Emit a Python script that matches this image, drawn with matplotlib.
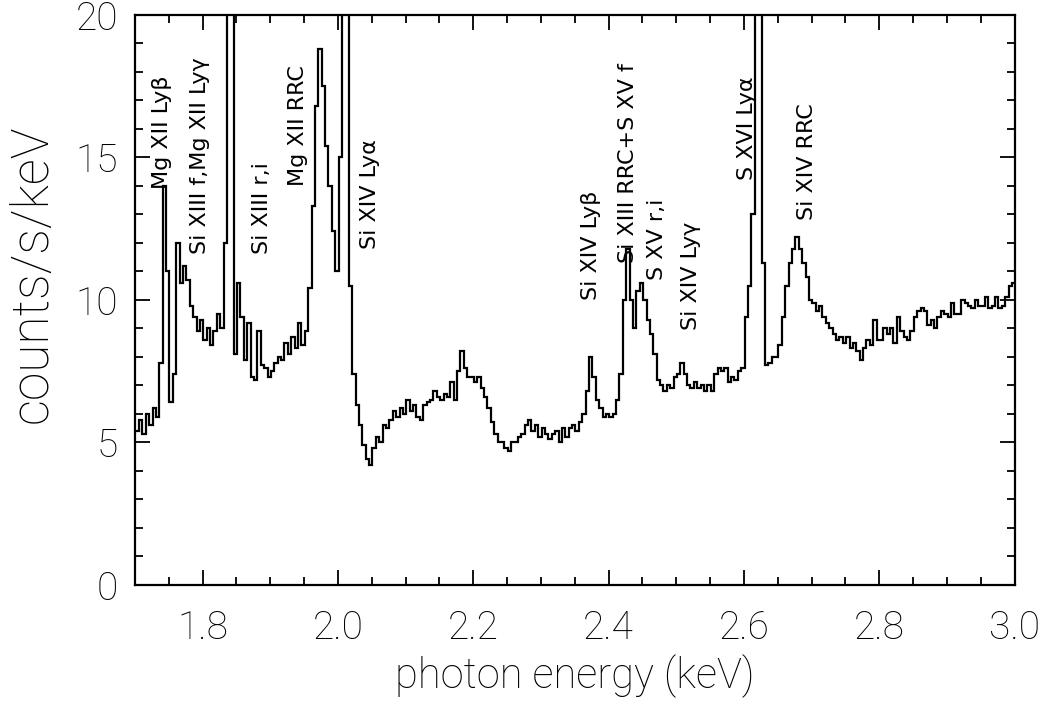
import numpy as np
import matplotlib
matplotlib.use("Agg")
import matplotlib.pyplot as plt
from matplotlib.ticker import MultipleLocator

plt.rcParams['font.family'] = ['Roboto', 'DejaVu Sans']
plt.rcParams['font.weight'] = 'light'
plt.rcParams['axes.labelweight'] = 'light'

# spectrum, 0.005 keV bins (counts/s/keV)
e_start = 1.701
bin_width = 0.005
counts = [
    5.4, 5.8, 5.3, 6.0, 5.6, 6.2, 5.9, 7.8, 14.0, 11.0,   # 1.700
    6.4, 7.4, 12.0, 10.6, 11.2, 10.7, 9.8, 9.4, 8.9, 9.3,  # 1.750
    8.6, 9.0, 8.4, 8.9, 9.5, 9.0, 12.0, 21.0, 20.5, 8.1,   # 1.800
    10.6, 9.4, 7.9, 9.2, 7.3, 7.2, 8.9, 7.7, 7.6, 7.3,     # 1.850
    7.5, 7.8, 8.0, 7.9, 8.5, 8.1, 8.7, 8.3, 9.2, 8.4,      # 1.900
    8.9, 10.4, 13.3, 16.8, 18.8, 17.5, 15.4, 14.0, 12.4, 11.0,  # 1.950
    15.0, 30.0, 25.0, 10.5, 7.4, 6.3, 5.6, 4.9, 4.4, 4.2,  # 2.000
    4.8, 5.2, 5.0, 5.6, 5.5, 5.8, 6.1, 5.9, 6.2, 6.0,      # 2.050
    6.5, 6.1, 6.3, 5.9, 5.8, 6.3, 6.4, 6.5, 6.8, 6.6,      # 2.100
    6.5, 6.7, 6.6, 7.1, 6.5, 7.5, 8.2, 7.6, 7.3, 7.3,      # 2.150
    7.1, 7.3, 6.9, 6.6, 6.2, 5.7, 5.3, 5.0, 5.0, 4.8,      # 2.200
    4.7, 5.0, 5.0, 5.2, 5.3, 5.6, 5.8, 5.4, 5.6, 5.2,      # 2.250
    5.5, 5.3, 5.1, 5.3, 5.4, 5.0, 5.5, 5.2, 5.5, 5.6,      # 2.300
    5.4, 5.7, 6.0, 6.8, 8.0, 7.3, 6.5, 6.2, 5.9, 6.0,      # 2.350
    5.9, 6.0, 6.5, 7.4, 10.0, 11.8, 10.0, 9.0, 10.3, 10.6, # 2.400
    10.0, 9.3, 8.8, 8.1, 7.2, 7.0, 6.8, 7.0, 6.9, 7.3,     # 2.450
    7.4, 7.8, 7.4, 7.0, 6.9, 7.1, 6.9, 7.0, 6.8, 7.0,      # 2.500
    6.8, 7.4, 7.6, 7.5, 7.6, 7.1, 7.3, 7.2, 7.5, 7.6,      # 2.550
    9.4, 10.5, 13.0, 35.0, 28.0, 11.3, 7.7, 7.8, 8.0, 8.0, # 2.600
    8.4, 9.4, 10.5, 11.3, 11.8, 12.2, 11.8, 11.3, 10.8, 10.0,  # 2.650
    9.9, 9.6, 9.8, 9.4, 9.2, 9.0, 8.8, 8.6, 8.7, 8.5,      # 2.700
    8.7, 8.3, 8.5, 8.2, 7.9, 8.3, 8.6, 8.4, 9.3, 8.6,      # 2.750
    8.6, 9.0, 8.8, 9.0, 8.5, 9.4, 8.9, 8.7, 8.6, 8.9,      # 2.800
    9.4, 9.6, 9.7, 9.6, 9.1, 9.3, 9.0, 9.4, 9.6, 9.5,      # 2.850
    9.4, 9.9, 9.5, 9.5, 10.0, 9.9, 9.8, 9.7, 10.0, 9.8,    # 2.900
    9.8, 10.1, 9.7, 9.8, 10.1, 9.7, 9.8, 10.1, 10.5, 10.6, # 2.950
]

# line identifications: energy (keV), label, lower end of text
line_energy = [1.740, 1.796, 1.888, 1.941, 2.048, 2.374, 2.429, 2.472, 2.522, 2.604, 2.693]
line_label = ["Mg XII Lyβ", "Si XIII f,Mg XII Lyγ", "Si XIII r,i",
              "Mg XII RRC", "Si XIV Lyα", "Si XIV Lyβ",
              "Si XIII RRC+S XV f", "S XV r,i", "Si XIV Lyγ",
              "S XVI Lyα", "Si XIV RRC"]
label_base = [13.9, 11.6, 11.6, 14.0, 11.8, 10.0, 11.3, 10.7, 8.95, 14.2, 12.8]

edges = e_start + bin_width * np.arange(len(counts) + 1)

fig = plt.figure(figsize=(10.46, 7.08), dpi=100)
ax = fig.add_axes([0.129, 0.174, 0.841, 0.805])
ax.stairs(counts, edges, baseline=None, color='black', linewidth=1.6)

for e, lab, yb in zip(line_energy, line_label, label_base):
    ax.text(e, yb, lab, rotation=90, ha='center', va='bottom', fontsize=16,
            family='DejaVu Sans', fontweight='normal')

ax.set_xlim(1.70, 3.0)
ax.set_ylim(0, 20)
ax.xaxis.set_minor_locator(MultipleLocator(0.05))
ax.yaxis.set_major_locator(MultipleLocator(5))
ax.yaxis.set_minor_locator(MultipleLocator(1))
ax.set_xticks([1.8, 2.0, 2.2, 2.4, 2.6, 2.8, 3.0])
ax.set_xticklabels(["1.8", "2.0", "2.2", "2.4", "2.6", "2.8", "3.0"])
ax.tick_params(which='both', direction='in', top=True, right=True, width=1.3)
ax.tick_params(which='major', length=11)
ax.tick_params(which='minor', length=6)
ax.tick_params(axis='x', which='major', labelsize=28, pad=18)
ax.tick_params(axis='y', which='major', labelsize=28, pad=12)
for sp in ax.spines.values():
    sp.set_linewidth(1.6)

ax.set_xlabel("photon energy (keV)", fontsize=30, labelpad=5)
ax.set_ylabel("counts/s/keV", fontsize=37)
ax.yaxis.set_label_coords(-0.088, 0.545)

fig.savefig("out.png", dpi=100)
